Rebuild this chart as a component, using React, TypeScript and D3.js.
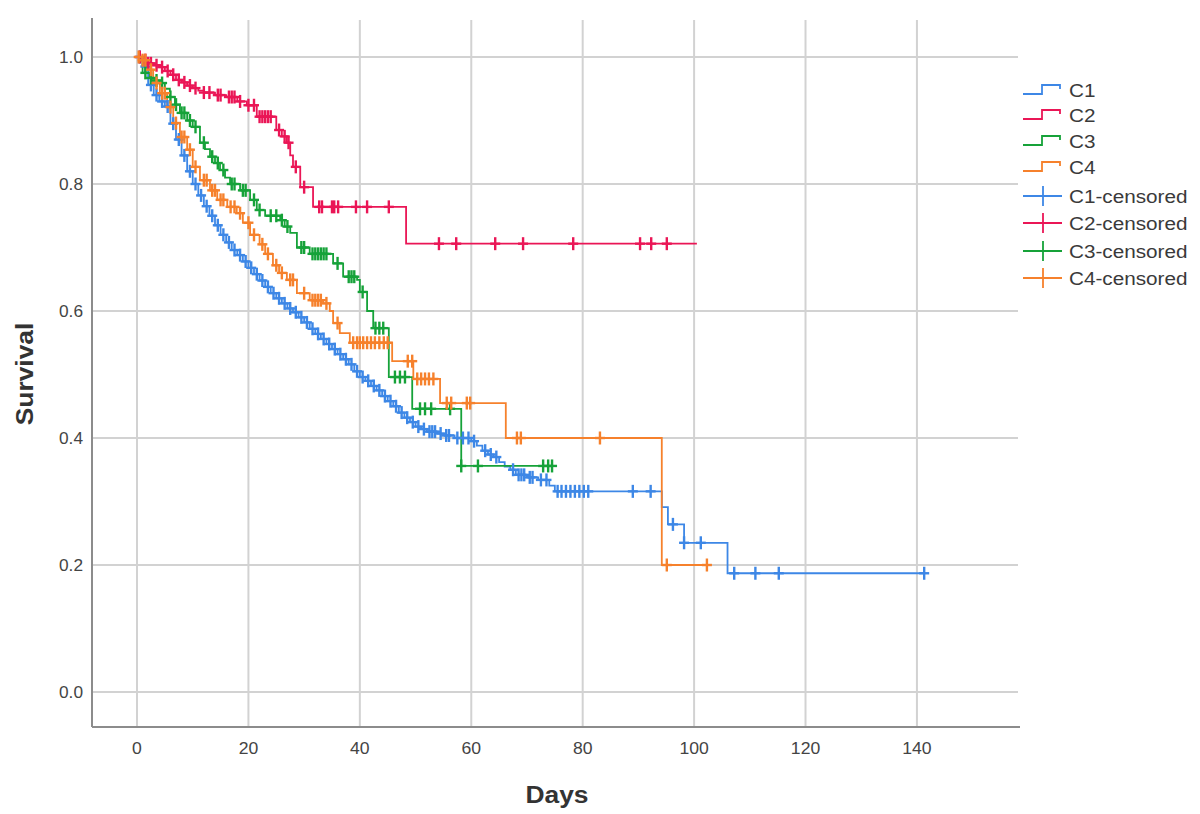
import React from 'react';
import * as d3 from 'd3';

// ---- Data ----
const groupNames = ['C1', 'C2', 'C3', 'C4'];
const groupColors = ['#3d87e6', '#ea1656', '#16a239', '#f6812c'];

const xTicks = [0, 20, 40, 60, 80, 100, 120, 140];
const yTicks = [0.0, 0.2, 0.4, 0.6, 0.8, 1.0];

// [day, survival after event]
const c1Steps: [number, number][] = [
  [1, 0.985], [2, 0.956], [3, 0.94], [4, 0.93], [5, 0.922], [6, 0.895], [7, 0.87], [8, 0.845],
  [9, 0.82], [10, 0.8], [11, 0.782], [12, 0.765], [13, 0.75], [14, 0.735], [15, 0.72], [16, 0.708],
  [17, 0.696], [18, 0.688], [19, 0.678], [20, 0.668], [21, 0.658], [22, 0.648], [23, 0.638],
  [24, 0.628], [25, 0.62], [26, 0.612], [27, 0.604], [28, 0.598], [29, 0.59], [30, 0.582],
  [31, 0.572], [32, 0.564], [33, 0.556], [34, 0.548], [35, 0.54], [36, 0.532], [37, 0.524],
  [38, 0.516], [39, 0.505], [40, 0.496], [41, 0.49], [42, 0.482], [43, 0.475], [44, 0.466],
  [45, 0.458], [46, 0.45], [47, 0.44], [48, 0.432], [49, 0.425], [50, 0.418], [51, 0.414],
  [52, 0.41], [54, 0.407], [55, 0.404], [57, 0.4], [60, 0.395], [61, 0.388], [62, 0.38],
  [63, 0.374], [64, 0.37], [65, 0.362], [66, 0.355], [67, 0.35], [68, 0.342], [70, 0.338],
  [72, 0.334], [74, 0.325], [75, 0.316], [94.2, 0.291], [95.3, 0.264], [98.2, 0.235], [106, 0.187],
];
const c1Censored = [
  0.5, 1.5, 2.5, 3.5, 4.5, 5.5, 6.5, 7.5, 8.5, 9.5, 10.5, 11.5, 12.5, 13.5, 14.5, 15.5, 16.5,
  17.5, 18.5, 19.5, 20.5, 21.5, 22.5, 23.5, 24.5, 25.5, 26.5, 27.5, 28.5, 29.5, 30.5, 31.5,
  32.5, 33.5, 34.5, 35.5, 36.5, 37.5, 38.5, 39.5, 40.5, 41.5, 42.5, 43.5, 44.5, 45.5, 46.5,
  47.5, 48.5, 49.5, 50.5, 51.5, 52.5, 53, 53.5, 54.5, 55.5, 56, 57.5, 58.5, 59.5, 60.5, 62.5,
  63.5, 64.5, 67.5, 68.5, 69, 69.5, 70.5, 71, 72.5, 73.5, 75.5, 76.2, 77, 77.8, 78.6, 79.4,
  80.2, 81, 89, 92.2, 96.2, 98.2, 101.2, 107.2, 111, 115.2, 141.3,
];
const c1End = 141.3;

const c2Steps: [number, number][] = [
  [1, 0.995], [2, 0.99], [3, 0.987], [4, 0.984], [5, 0.978], [6, 0.972], [7, 0.964], [8, 0.96],
  [9, 0.955], [10, 0.951], [11, 0.947], [12, 0.944], [14, 0.94], [16, 0.937], [18, 0.93],
  [19.7, 0.924], [21.5, 0.906], [25, 0.885], [26, 0.875], [26.9, 0.865], [27.5, 0.845],
  [28, 0.827], [29.3, 0.795], [31.6, 0.764], [48.3, 0.706],
];
const c2Censored = [
  0.5, 1.5, 2, 2.5, 3.5, 4.5, 5.5, 6.5, 7.5, 8.5, 9.5, 10.5, 12, 13, 14.5, 15, 16.5, 17, 17.5,
  18.5, 20, 21, 22, 22.5, 23, 23.5, 24, 25.5, 26.5, 27.2, 28.5, 30, 32.7, 33.2, 35, 35.4, 36.1,
  39.3, 41.3, 45.2, 54.2, 57.3, 64.3, 69.3, 78.3, 90.3, 92.3, 95.1,
];
const c2End = 100.5;

const c3Steps: [number, number][] = [
  [1, 0.975], [2.3, 0.967], [3, 0.963], [4.1, 0.959], [5, 0.95], [5.9, 0.937], [6.8, 0.925],
  [7.7, 0.912], [9, 0.9], [10, 0.89], [11.3, 0.865], [12.2, 0.855], [13.1, 0.843], [14, 0.833],
  [14.9, 0.822], [15.8, 0.81], [16.7, 0.8], [18.5, 0.79], [20.3, 0.775], [21.5, 0.759],
  [23, 0.75], [25.7, 0.743], [26.5, 0.733], [27.5, 0.723], [28.7, 0.7], [31, 0.69],
  [35.2, 0.675], [37, 0.654], [39.5, 0.649], [40, 0.63], [41.3, 0.6], [42.4, 0.573],
  [45.2, 0.496], [49.4, 0.446], [58.2, 0.356],
];
const c3Censored = [
  1.5, 2.5, 3.5, 4.5, 6, 7, 8, 8.5, 9.5, 10.5, 12, 13.5, 14.5, 15.5, 17, 17.5, 19, 19.5, 21,
  22, 24, 25, 26, 27, 29.5, 30, 31.5, 32, 32.5, 33, 33.5, 34, 36, 38, 38.5, 39, 40.5, 42.8,
  43.5, 44.2, 46.3, 47.2, 48.1, 50.8, 51.7, 52.8, 56.2, 58.2, 61.2, 72.9, 73.8, 74.5,
];
const c3End = 75;

const c4Steps: [number, number][] = [
  [0.5, 0.995], [1.8, 0.98], [2.9, 0.959], [4.1, 0.943], [5.4, 0.921], [6.5, 0.896],
  [7.7, 0.874], [9, 0.854], [10, 0.827], [11.3, 0.806], [13.1, 0.79], [14.4, 0.775],
  [16.2, 0.764], [17.9, 0.754], [19, 0.739], [20.3, 0.72], [22, 0.705], [23, 0.69],
  [24.4, 0.672], [25.5, 0.66], [26.9, 0.649], [28.7, 0.628], [31, 0.617], [33.4, 0.612],
  [34.6, 0.6], [35.2, 0.581], [36.4, 0.565], [38.2, 0.55], [45.8, 0.521], [49.6, 0.493],
  [54.4, 0.455], [66.2, 0.4], [94.2, 0.2],
];
const c4Censored = [
  0.3, 1, 1.5, 2.5, 3.5, 4.5, 5, 6, 7, 8, 8.5, 9.5, 10.5, 12, 12.5, 13.5, 14, 15, 15.5, 16.8,
  17.5, 18.5, 20, 21, 22.5, 23.5, 25, 26, 27.5, 28, 30, 31.5, 32, 32.5, 33, 34, 36, 38.8, 39.5,
  40, 40.6, 41.3, 42, 42.7, 43.5, 44.3, 45, 48.6, 49.4, 50.3, 51, 51.7, 52.4, 53.2, 55.6, 56.4,
  59.2, 59.8, 68.2, 68.9, 83.1, 95.1, 102.3,
];
const c4End = 102.3;

const allSteps = [c1Steps, c2Steps, c3Steps, c4Steps];
const allCensored = [c1Censored, c2Censored, c3Censored, c4Censored];
const allEnds = [c1End, c2End, c3End, c4End];

// ---- Layout ----
const W = 1200;
const H = 814;
const left = 92, right = 1020, top = 18, bottom = 727;

const x = d3.scaleLinear().domain([-8.08, 158.5]).range([left, right]);
const y = d3.scaleLinear().domain([-0.0551, 1.0614]).range([bottom, top]);

function survAt(steps: [number, number][], t: number): number {
  let s = 1;
  for (const [tt, ss] of steps) {
    if (tt <= t) s = ss;
    else break;
  }
  return s;
}

const lineGen = d3
  .line<[number, number]>()
  .x((d) => x(d[0]))
  .y((d) => y(d[1]))
  .curve(d3.curveStepAfter);

const font = "'Liberation Sans', Arial, sans-serif";

function WideText(props: {
  x: number; y: number; sx: number; size: number; anchor?: string; weight?: string; fill?: string;
  rotate?: number; children: React.ReactNode;
}) {
  const { x: tx, y: ty, sx, size, anchor, weight, fill, rotate, children } = props;
  const tr = `translate(${tx},${ty})${rotate ? ` rotate(${rotate})` : ''} scale(${sx},1)`;
  return (
    <text
      transform={tr}
      textAnchor={anchor || 'start'}
      fontSize={size}
      fontWeight={weight || 'normal'}
      fill={fill || '#3a3a3a'}
    >
      {children}
    </text>
  );
}

export default function App() {
  const gridColor = '#d2d2d2';
  const axisColor = '#8c8c8c';
  const legendX = 1023;
  const legendRows = [90, 115, 141, 167, 196, 223, 251, 278];

  return (
    <svg
      width={W}
      height={H}
      style={{ position: 'absolute', left: 0, top: 0, background: '#fff' }}
      fontFamily={font}
    >
      <rect x={0} y={0} width={W} height={H} fill="#fff" />
      {/* grid */}
      {xTicks.map((t) => (
        <line key={'gx' + t} x1={x(t)} x2={x(t)} y1={top + 2} y2={bottom} stroke={gridColor} strokeWidth={2} />
      ))}
      {yTicks.map((t) => (
        <line key={'gy' + t} x1={left} x2={right - 2} y1={y(t)} y2={y(t)} stroke={gridColor} strokeWidth={2} />
      ))}
      {/* axes */}
      <line x1={left} x2={left} y1={top} y2={bottom} stroke={axisColor} strokeWidth={2} />
      <line x1={left} x2={right} y1={bottom} y2={bottom} stroke={axisColor} strokeWidth={2} />

      {/* tick labels */}
      {xTicks.map((t) => (
        <WideText key={'tx' + t} x={x(t)} y={754} sx={1.1} size={16} anchor="middle" fill="#444">
          {t}
        </WideText>
      ))}
      {yTicks.map((t) => (
        <WideText key={'ty' + t} x={83} y={y(t) + 6} sx={1.08} size={16} anchor="end" fill="#444">
          {t.toFixed(1)}
        </WideText>
      ))}

      {/* axis titles */}
      <WideText x={557} y={803} sx={1.1} size={24} anchor="middle" weight="bold" fill="#333">
        Days
      </WideText>
      <WideText x={33} y={374} sx={1.1} size={24} anchor="middle" weight="bold" fill="#333" rotate={-90}>
        Survival
      </WideText>

      {/* curves */}
      {allSteps.map((steps, i) => {
        const pts: [number, number][] = [[0, 1], ...steps];
        const last = steps[steps.length - 1];
        pts.push([allEnds[i], last[1]]);
        return (
          <path key={'c' + i} d={lineGen(pts) || ''} fill="none" stroke={groupColors[i]} strokeWidth={1.8} />
        );
      })}

      {/* censor marks */}
      {allCensored.map((cs, i) => (
        <g key={'m' + i} stroke={groupColors[i]} strokeWidth={2.4}>
          {cs.map((t, j) => {
            const cx = x(t);
            const cy = y(survAt(allSteps[i], t));
            return (
              <g key={j}>
                <line x1={cx} x2={cx} y1={cy - 6.5} y2={cy + 6.5} />
                <line x1={cx - 5} x2={cx + 5} y1={cy} y2={cy} />
              </g>
            );
          })}
        </g>
      ))}

      {/* legend */}
      {groupNames.map((g, i) => {
        const cy = legendRows[i];
        return (
          <g key={'l' + i}>
            <path
              d={`M${legendX},${cy + 4} H${legendX + 19} V${cy - 5} H${legendX + 37} V${cy - 1}`}
              fill="none"
              stroke={groupColors[i]}
              strokeWidth={1.8}
            />
            <WideText x={legendX + 46} y={cy + 7} sx={1.09} size={19}>
              {g}
            </WideText>
          </g>
        );
      })}
      {groupNames.map((g, i) => {
        const cy = legendRows[i + 4];
        return (
          <g key={'lc' + i}>
            <line x1={legendX} x2={legendX + 39} y1={cy} y2={cy} stroke={groupColors[i]} strokeWidth={1.8} />
            <line x1={legendX + 20} x2={legendX + 20} y1={cy - 10} y2={cy + 10} stroke={groupColors[i]} strokeWidth={1.8} />
            <WideText x={legendX + 46} y={cy + 7} sx={1.09} size={19}>
              {g}-censored
            </WideText>
          </g>
        );
      })}
    </svg>
  );
}
